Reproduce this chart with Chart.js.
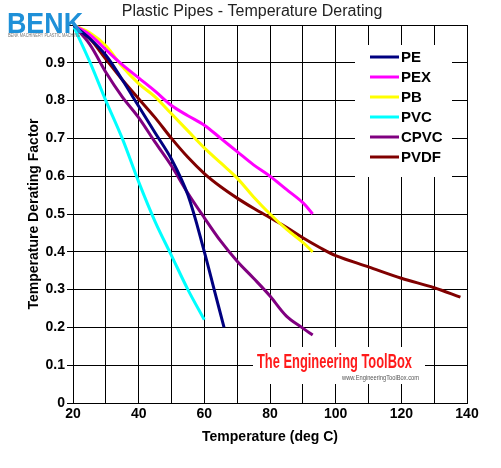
<!DOCTYPE html>
<html>
<head>
<meta charset="utf-8">
<script src="https://cdn.jsdelivr.net/npm/chart.js@4.4.1/dist/chart.umd.min.js"></script>
<style>
  html, body { margin: 0; padding: 0; background: #fff; }
  #wrap { width: 501px; height: 468px; }
</style>
</head>
<body>
<div id="wrap"><canvas id="chart" width="501" height="468"></canvas></div>
<script>
// ── Données ───────────────────────────────────────────────────────────
const peT    = [20, 25, 30, 35, 40, 45, 50, 55, 60, 63, 66]
const peV    = [1.0, 0.965, 0.92, 0.855, 0.785, 0.715, 0.645, 0.55, 0.40, 0.30, 0.20]

const pexT   = [20, 25, 30, 35, 40, 45, 50, 55, 60, 65, 70, 75, 80, 85, 90, 93]
const pexV   = [1.0, 0.975, 0.935, 0.895, 0.86, 0.825, 0.787, 0.76, 0.735, 0.70, 0.665, 0.63, 0.60, 0.565, 0.53, 0.50]

const pbT    = [20, 25, 30, 35, 40, 45, 50, 55, 60, 65, 70, 75, 80, 85, 90, 93]
const pbV    = [1.0, 0.98, 0.945, 0.89, 0.845, 0.81, 0.765, 0.72, 0.675, 0.635, 0.595, 0.545, 0.50, 0.46, 0.425, 0.40]

const pvcT   = [20, 25, 30, 35, 40, 45, 50, 55, 60]
const pvcV   = [1.0, 0.905, 0.80, 0.70, 0.585, 0.48, 0.39, 0.30, 0.22]

const cpvcT  = [20, 25, 30, 35, 40, 45, 50, 55, 60, 65, 70, 75, 80, 85, 90, 93]
const cpvcV  = [1.0, 0.95, 0.875, 0.81, 0.755, 0.69, 0.627, 0.555, 0.49, 0.428, 0.375, 0.33, 0.283, 0.23, 0.198, 0.18]

const pvdfT  = [20, 25, 30, 35, 40, 45, 50, 55, 60, 65, 70, 75, 80, 85, 90, 95, 100, 110, 120, 130, 138]
const pvdfV  = [1.0, 0.965, 0.91, 0.855, 0.805, 0.755, 0.70, 0.65, 0.607, 0.572, 0.542, 0.515, 0.49, 0.465, 0.437, 0.412, 0.39, 0.36, 0.33, 0.305, 0.28]

const seriesNames  = ['PE', 'PEX', 'PB', 'PVC', 'CPVC', 'PVDF']
const seriesColors = ['#000080', '#ff00ff', '#ffff00', '#00ffff', '#800080', '#800000']

const xMin = 20, xMax = 140, xStep = 10
const yMin = 0, yMax = 1, yStep = 0.1

const FONT = 'Arial, "Liberation Sans", sans-serif'

const pts = (xs, ys) => xs.map((x, i) => ({ x, y: ys[i] }))
const allSeries = [pts(peT, peV), pts(pexT, pexV), pts(pbT, pbV), pts(pvcT, pvcV), pts(cpvcT, cpvcV), pts(pvdfT, pvdfV)]

// ── Décor : titre, logo, légende dans la zone, masques blancs ─────────
const decor = {
    id: 'decor',
    beforeDatasetsDraw(chart) {
        const c = chart.ctx
        c.save()
        c.fillStyle = '#fff'
        c.fillRect(355, 45, 97, 132)   // fond légende
        c.fillRect(253, 347, 172, 37)  // fond logo
        c.restore()
    },
    afterDraw(chart) {
        const c = chart.ctx
        c.save()

        // titre
        c.fillStyle = '#222'
        c.font = '16px ' + FONT
        c.textAlign = 'center'
        c.textBaseline = 'middle'
        c.fillText('Plastic Pipes - Temperature Derating', 252, 12)

        // filigrane BENK
        c.fillStyle = '#1e90d8'
        c.font = 'bold 29px ' + FONT
        c.textAlign = 'left'
        c.textBaseline = 'alphabetic'
        c.fillText('BENK', 7, 33, 76)
        c.fillStyle = '#777'
        c.font = '5px ' + FONT
        c.fillText('BENK MACHINERY PLASTIC MACHINE', 8, 37, 72)

        // légende
        chart.data.datasets.forEach((ds, i) => {
            const y = 57 + i * 20
            c.strokeStyle = ds.borderColor
            c.lineWidth = 3
            c.beginPath()
            c.moveTo(370, y)
            c.lineTo(399, y)
            c.stroke()
            c.fillStyle = '#000'
            c.font = 'bold 15px ' + FONT
            c.textBaseline = 'middle'
            c.fillText(ds.label, 401, y + 1)
        })

        // logo Engineering ToolBox
        c.textBaseline = 'alphabetic'
        c.fillStyle = '#ff1a1a'
        c.font = 'bold 21px "Liberation Sans Narrow", ' + FONT
        c.fillText('The Engineering ToolBox', 257, 368, 155)
        c.fillStyle = '#555'
        c.font = '8px ' + FONT
        c.fillText('www.EngineeringToolBox.com', 342, 380, 77)

        c.restore()
    }
}

new Chart(document.getElementById('chart'), {
    type: 'line',
    data: {
        datasets: allSeries.map((data, i) => ({
            label: seriesNames[i],
            data,
            borderColor: seriesColors[i],
            backgroundColor: seriesColors[i],
            borderWidth: 3,
            pointRadius: 0,
            tension: 0.35,
            fill: false,
        }))
    },
    options: {
        responsive: false,
        animation: false,
        layout: { padding: { top: 25, right: 34, left: 0, bottom: 0 } },
        plugins: { legend: { display: false }, title: { display: false }, tooltip: { enabled: false } },
        scales: {
            x: {
                type: 'linear',
                min: xMin, max: xMax,
                afterFit: s => { s.height = 65 },
                grid: { color: '#000', lineWidth: 1, drawTicks: false },
                border: { color: '#000', width: 1 },
                ticks: {
                    stepSize: xStep,
                    padding: 3,
                    autoSkip: false,
                    maxRotation: 0,
                    color: '#000',
                    font: { family: FONT, size: 14, weight: 'bold' },
                    callback: v => (v % 20 === 0 ? String(v) : '')
                },
                title: {
                    display: true,
                    text: 'Temperature (deg C)',
                    color: '#000',
                    font: { family: FONT, size: 14, weight: 'bold' },
                    padding: { top: 0, bottom: 22 }
                }
            },
            y: {
                min: yMin, max: yMax,
                afterFit: s => { s.width = 73 },
                grid: { color: '#000', lineWidth: 1, tickLength: 6 },
                border: { color: '#000', width: 1 },
                ticks: {
                    stepSize: yStep,
                    padding: 2,
                    autoSkip: false,
                    color: '#000',
                    font: { family: FONT, size: 14, weight: 'bold' },
                    callback: v => (Math.abs(v - 1) < 1e-9 ? '' : String(+v.toFixed(1)))
                },
                title: {
                    display: true,
                    text: 'Temperature Derating Factor',
                    color: '#000',
                    font: { family: FONT, size: 14, weight: 'bold' },
                    padding: { top: 26, bottom: 0 }
                }
            }
        }
    },
    plugins: [decor]
})
</script>
</body>
</html>
